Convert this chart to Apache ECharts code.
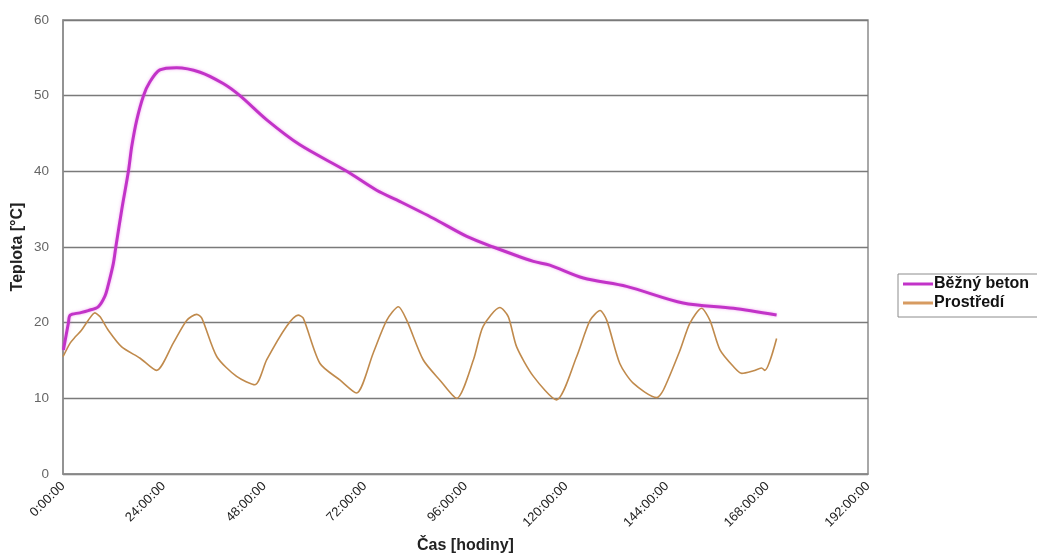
<!DOCTYPE html>
<html>
<head>
<meta charset="utf-8">
<script src="https://cdn.jsdelivr.net/npm/echarts@6/dist/echarts.min.js"></script>
<style>
html,body{margin:0;padding:0;background:#fff;overflow:hidden;}
#chart{width:1037px;height:554px;}
</style>
</head>
<body>
<div id="chart"></div>
<script>
// Time in hours, temperature in °C
const betonHours = [0.1, 1.3, 1.7, 4, 6, 8.4, 10, 10.8, 12, 12.6, 14, 15.6, 16.4, 17.6, 19.2, 20.7, 23.1, 27.1, 32.7, 38.2, 42.2, 48.6, 56.5, 67.7, 74.8, 80.4, 88.3, 96.3, 102.6, 112.2, 116.1, 124.1, 134.4, 147.9, 159.9, 170.2];
const betonTemp  = [16.4, 20.0, 21.0, 21.3, 21.6, 22.1, 23.5, 25.0, 27.8, 30.0, 34.9, 40.0, 43.3, 46.8, 50.0, 51.8, 53.4, 53.7, 53.1, 51.6, 50.0, 46.8, 43.5, 40.0, 37.5, 36.0, 33.8, 31.4, 30.0, 28.1, 27.6, 25.9, 24.8, 22.6, 21.9, 21.0];

const prostrediHours = [0, 1.7, 2.9, 4.4, 6, 7.6, 8.8, 10.8, 14, 18.4, 22.3, 26.3, 29.5, 31.9, 33.1, 36.7, 41.4, 45.8, 48.6, 53.3, 56.1, 57.3, 61.3, 66.1, 70.0, 74.0, 77.2, 80.0, 82.0, 85.9, 89.9, 93.9, 97.9, 100.2, 104.2, 106.2, 108.2, 112.2, 117.7, 122.5, 125.7, 128.1, 129.7, 132.8, 136.0, 141.6, 143.2, 147.2, 149.5, 152.3, 154.3, 156.7, 159.9, 161.9, 164.7, 166.6, 167.4, 170.2];
const prostrediTemp  = [15.5, 17.3, 18.1, 19.0, 20.3, 21.3, 20.8, 19.0, 16.8, 15.3, 13.7, 17.3, 20.3, 21.1, 20.6, 15.5, 12.9, 11.8, 15.1, 19.5, 21.0, 20.6, 14.6, 12.4, 10.7, 16.0, 20.3, 22.1, 20.3, 15.1, 12.4, 10.0, 15.1, 19.5, 22.0, 20.8, 16.8, 12.9, 9.8, 15.5, 20.3, 21.6, 20.3, 14.6, 12.0, 10.1, 11.1, 16.4, 19.9, 21.9, 20.3, 16.4, 14.2, 13.3, 13.65, 14.0, 13.7, 17.9];

const xTicks = [0, 24, 48, 72, 96, 120, 144, 168, 192];
const yTicks = [0, 10, 20, 30, 40, 50, 60];

const seriesNames = ['Běžný beton', 'Prostředí'];

function pairs(xs, ys){ return xs.map((x,i)=>[x, ys[i]]); }

const chart = echarts.init(document.getElementById('chart'));
chart.setOption({
  animation: false,
  backgroundColor: '#fff',
  textStyle: { fontFamily: 'Liberation Sans, Arial, sans-serif' },
  grid: { left: 63, right: 169, top: 20, bottom: 80, containLabel: false, outerBoundsMode: 'none',
          show: true, borderColor: '#8c8c8c', borderWidth: 1.5 },
  legend: {
    orient: 'vertical',
    left: 898, top: 274,
    backgroundColor: '#fff',
    borderColor: '#8c8c8c', borderWidth: 1,
    padding: [2, 30, 6, 5],
    itemGap: 3,
    itemWidth: 30, itemHeight: 3,
    textStyle: { fontWeight: 'bold', fontSize: 16, color: '#111', padding: [0,0,0,-4] },
    data: [
      { name: seriesNames[0], icon: 'rect' },
      { name: seriesNames[1], icon: 'rect', itemStyle: { opacity: 0.85 } }
    ]
  },
  xAxis: {
    type: 'value', min: xTicks[0], max: xTicks[xTicks.length-1], interval: 24,
    name: 'Čas [hodiny]', nameLocation: 'middle', nameGap: 64, nameMoveOverlap: false,
    nameTextStyle: { fontWeight: 'bold', fontSize: 16, color: '#222' },
    axisLine: { show: true, lineStyle: { color: '#8c8c8c', width: 1.5 } },
    axisTick: { show: false },
    splitLine: { show: false },
    axisLabel: { rotate: 45, fontSize: 13, color: '#222', margin: 10, formatter: v => v + ':00:00' }
  },
  yAxis: {
    type: 'value', min: yTicks[0], max: yTicks[yTicks.length-1], interval: 10,
    name: 'Teplota [°C]', nameLocation: 'middle', nameGap: 37, nameRotate: 90, nameMoveOverlap: false,
    nameTextStyle: { fontWeight: 'bold', fontSize: 16, color: '#222' },
    axisLine: { show: true, lineStyle: { color: '#8c8c8c', width: 1.5 } },
    axisTick: { show: false },
    splitLine: { show: true, lineStyle: { color: '#7a7a7a', width: 1.3 } },
    axisLabel: { fontSize: 13.5, color: '#666', margin: 14 }
  },
  series: [
    {
      name: seriesNames[0], type: 'line', data: pairs(betonHours, betonTemp),
      smooth: 0.3, symbol: 'none',
      lineStyle: { color: '#c233c8', width: 3, shadowColor: 'rgba(230,80,230,0.5)', shadowBlur: 3 },
      itemStyle: { color: '#c233c8' },
      z: 3
    },
    {
      name: seriesNames[1], type: 'line', data: pairs(prostrediHours, prostrediTemp),
      smooth: 0.25, symbol: 'none',
      lineStyle: { color: '#c08a4c', width: 1.6 },
      itemStyle: { color: '#d08a45' },
      z: 2
    }
  ]
});
</script>
</body>
</html>
